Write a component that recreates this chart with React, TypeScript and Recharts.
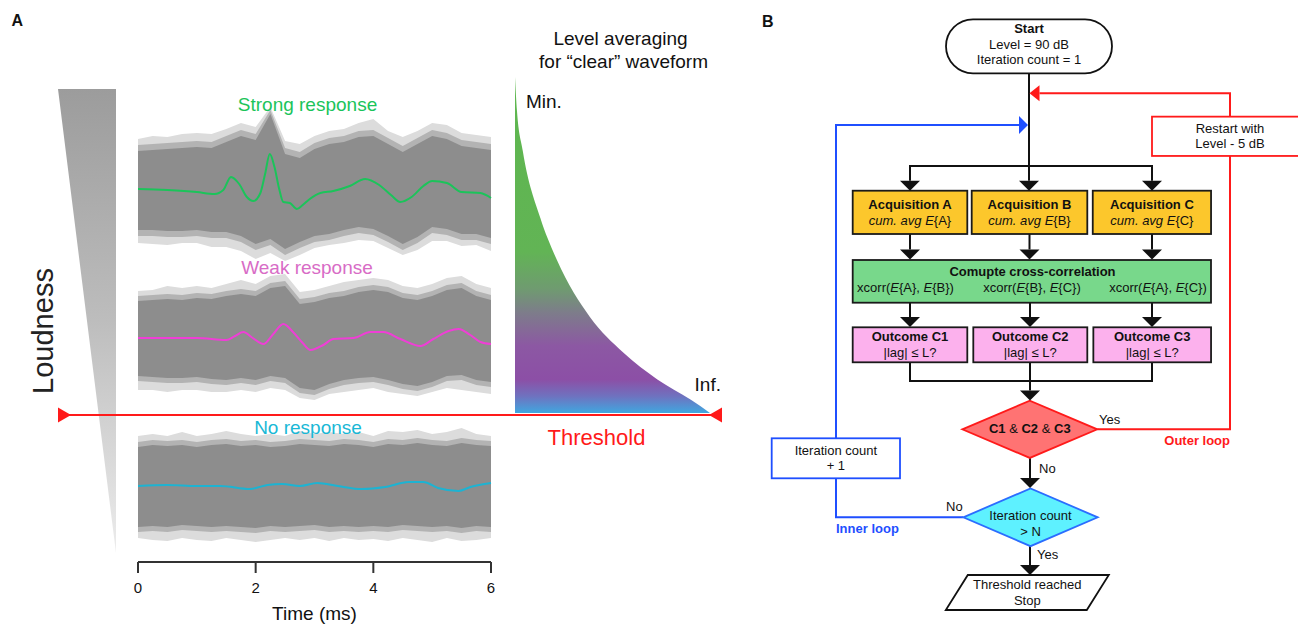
import React from "react";
import {
  ComposedChart,
  AreaChart,
  Area,
  Line,
  Scatter,
  XAxis,
  YAxis,
} from "recharts";

const FONT = '"Liberation Sans", Arial, Helvetica, sans-serif';
const RED = "#ff1a1a";
const BLUE = "#1f4fff";
const GREEN = "#1bc45a";
const MAGENTA = "#ef3ed6";
const CYAN = "#1db3d2";

// ---------- panel A: single-trial traces and their averages ----------
const timeTicks = [0, 2, 4, 6];
const bandTimes = [0, 0.25, 0.5, 0.75, 1, 1.25, 1.5, 1.75, 2, 2.25, 2.5, 2.75, 3, 3.25, 3.5, 3.75, 4, 4.25, 4.5, 4.75, 5, 5.25, 5.5, 5.75, 6];

// envelopes of the gray trial traces (amplitude around each baseline)
const strongCoreHi = [38, 39, 40, 41, 42, 41, 47, 53, 49, 75, 35, 31, 40, 45, 47, 52, 53, 45, 37, 45, 53, 50, 43, 41, 39];
const strongCoreLo = [-41, -41, -42, -42, -41, -43, -43, -47, -55, -50, -60, -53, -47, -45, -41, -38, -40, -47, -55, -48, -38, -40, -45, -45, -49];
const strongMidHi = [44, 45, 46, 47, 48, 47, 53, 59, 55, 79, 41, 37, 46, 51, 53, 58, 59, 51, 43, 51, 59, 56, 49, 47, 45];
const strongMidLo = [-47, -47, -48, -48, -47, -49, -49, -53, -61, -56, -66, -59, -53, -51, -47, -44, -46, -53, -61, -54, -44, -46, -51, -51, -55];
const strongOuterHi = [50, 53, 52, 55, 56, 55, 60, 66, 62, 82, 48, 45, 53, 58, 60, 66, 70, 58, 52, 58, 66, 64, 56, 54, 52];
const strongOuterLo = [-54, -55, -56, -54, -54, -58, -58, -62, -70, -64, -72, -66, -59, -56, -54, -51, -52, -59, -66, -61, -52, -52, -57, -56, -62];

const weakCoreHi = [37, 38, 39, 38, 40, 39, 42, 44, 42, 50, 52, 34, 36, 40, 42, 46, 48, 46, 40, 38, 42, 48, 50, 42, 38];
const weakCoreLo = [-38, -39, -40, -40, -39, -41, -42, -40, -42, -38, -40, -50, -52, -46, -42, -40, -39, -42, -46, -48, -44, -38, -37, -42, -44];
const weakMidHi = [42, 43, 44, 43, 45, 44, 47, 49, 47, 55, 57, 39, 41, 45, 47, 51, 53, 51, 45, 43, 47, 53, 55, 47, 43];
const weakMidLo = [-43, -44, -45, -45, -44, -46, -47, -45, -47, -43, -45, -55, -57, -51, -47, -45, -44, -47, -51, -53, -49, -43, -42, -47, -49];
const weakOuterHi = [47, 48, 52, 50, 52, 50, 54, 58, 54, 62, 64, 46, 48, 52, 56, 58, 60, 58, 52, 50, 54, 60, 62, 54, 50];
const weakOuterLo = [-52, -52, -54, -52, -52, -54, -54, -52, -54, -50, -52, -60, -62, -56, -54, -52, -50, -54, -56, -58, -54, -50, -52, -54, -56];

const noneCoreHi = [39, 41, 40, 41, 39, 41, 42, 40, 41, 39, 40, 42, 41, 40, 42, 41, 39, 42, 41, 43, 41, 40, 43, 41, 40];
const noneCoreLo = [-41, -40, -41, -39, -40, -41, -40, -41, -42, -40, -41, -40, -39, -41, -40, -41, -40, -41, -39, -40, -41, -40, -42, -40, -41];
const noneMidHi = [44, 46, 45, 46, 44, 46, 47, 45, 46, 44, 45, 47, 46, 45, 47, 46, 44, 47, 46, 48, 46, 45, 48, 46, 45];
const noneMidLo = [-46, -45, -46, -44, -45, -46, -45, -46, -47, -45, -46, -45, -44, -46, -45, -46, -45, -46, -44, -45, -46, -45, -47, -45, -46];
const noneOuterHi = [50, 52, 50, 54, 50, 52, 55, 52, 50, 52, 50, 55, 52, 54, 52, 54, 50, 55, 54, 56, 52, 54, 58, 52, 50];
const noneOuterLo = [-52, -54, -55, -52, -54, -55, -52, -54, -56, -54, -52, -54, -52, -55, -52, -54, -53, -55, -52, -54, -56, -52, -55, -54, -52];

// averaged waveforms
const strongMeanT = [0, 0.5, 1, 1.3, 1.45, 1.58, 1.72, 1.85, 1.96, 2.08, 2.16, 2.24, 2.32, 2.4, 2.47, 2.58, 2.7, 2.8, 2.92, 3.1, 3.32, 3.6, 3.86, 4.1, 4.3, 4.46, 4.65, 4.85, 5.0, 5.25, 5.5, 5.82, 6];
const strongMean = [0, -1, -3, -5, -1, 12, 5, -8, -12, -4, 15, 35, 22, 0, -13, -14, -20, -16, -10, -4, -2, 3, 10, 4, -6, -13, -8, 3, 8, 6, -3, -4, -9];

const weakMeanT = [0, 0.5, 1, 1.5, 1.65, 1.79, 1.95, 2.13, 2.3, 2.47, 2.65, 2.8, 2.93, 3.15, 3.32, 3.66, 3.95, 4.17, 4.46, 4.8, 5.02, 5.28, 5.45, 5.65, 5.82, 6];
const weakMean = [0, 0, 0, -2, 2, 6, 0, -6, 4, 14, 5, -5, -12, -7, -1, 0, 6, 6, -1, -8, -1, 7, 9, 3, -4, -6];

const noneMeanT = [0, 0.5, 1, 1.4, 1.9, 2.2, 2.45, 2.75, 3.05, 3.4, 3.8, 4.2, 4.6, 4.85, 5.1, 5.45, 5.65, 6];
const noneMean = [0, 1, 0, 0, -3, 1, 2, 0, 3, 0, -3, -1, 4, 4, -2, -5, -1, 3];

// level averaging needed vs loudness (relative units)
const levelAvg = [0, 1, 4, 13, 21.5, 38.5, 55.5, 73, 90, 100];
const levelLoud = [100, 90, 78, 58, 45.5, 28.5, 18, 10, 4, 0];

// baselines of the three stacked trace groups on the shared y scale
const OFF_STRONG = 373;
const OFF_WEAK = 224;
const OFF_NONE = 76;

const rng = (lo: number[], hi: number[], off: number, i: number) => [off + lo[i], off + hi[i]];

const bandRows = bandTimes.map((t, i) => ({
  t,
  strongOuter: rng(strongOuterLo, strongOuterHi, OFF_STRONG, i),
  strongMid: rng(strongMidLo, strongMidHi, OFF_STRONG, i),
  strongCore: rng(strongCoreLo, strongCoreHi, OFF_STRONG, i),
  weakOuter: rng(weakOuterLo, weakOuterHi, OFF_WEAK, i),
  weakMid: rng(weakMidLo, weakMidHi, OFF_WEAK, i),
  weakCore: rng(weakCoreLo, weakCoreHi, OFF_WEAK, i),
  noneOuter: rng(noneOuterLo, noneOuterHi, OFF_NONE, i),
  noneMid: rng(noneMidLo, noneMidHi, OFF_NONE, i),
  noneCore: rng(noneCoreLo, noneCoreHi, OFF_NONE, i),
}));

const meanRows = (ts: number[], vs: number[], off: number) =>
  ts.map((t, i) => ({ t, v: vs[i] + off }));

const strongRows = meanRows(strongMeanT, strongMean, OFF_STRONG);
const weakRows = meanRows(weakMeanT, weakMean, OFF_WEAK);
const noneRows = meanRows(noneMeanT, noneMean, OFF_NONE);

const levelRows = levelAvg.map((avg, i) => ({ avg, level: levelLoud[i] }));

// ---------- diagram layer (page coordinates) ----------
const wedgeRows = [
  { x: 58, r: [89, 89] },
  { x: 116, r: [89, 553] },
];
const thresholdRows = [
  { x: 58, y: 415 },
  { x: 722, y: 415 },
];

type Seg = { t: string; b?: boolean; i?: boolean };
const T = (t: string, b = false, i = false): Seg => ({ t, b, i });
const xcorr = (a: string, b: string) => [T("xcorr("), T("E", false, true), T(`{${a}}, `), T("E", false, true), T(`{${b}})`)];
const acqLines = (k: string) => [
  { dy: -3.35, segs: [T(`Acquisition ${k}`, true)] },
  { dy: 12.65, segs: [T("cum. avg ", false, true), T("E", false, true), T(`{${k}}`)] },
];
const outLines = (k: string) => [
  { dy: -3.8, segs: [T(`Outcome ${k}`, true)] },
  { dy: 11.9, segs: [T("|lag| ≤ L?")] },
];

const nodes = [
  { kind: "stadium", x: 1029, y: 46.3, w: 166, h: 54, fill: "#fff", stroke: "#111",
    lines: [{ dy: -13, segs: [T("Start", true)] }, { dy: 3, segs: [T("Level = 90 dB")] }, { dy: 18, segs: [T("Iteration count = 1")] }] },
  { kind: "rect", x: 1230, y: 136.3, w: 156, h: 39.3, fill: "#fff", stroke: RED,
    lines: [{ dy: -3.3, segs: [T("Restart with")] }, { dy: 11.7, segs: [T("Level - 5 dB")] }] },
  { kind: "rect", x: 910, y: 212.35, w: 114.6, h: 43.3, fill: "#fcc72c", stroke: "#1a1a1a", lines: acqLines("A") },
  { kind: "rect", x: 1029.5, y: 212.35, w: 115.6, h: 43.3, fill: "#fcc72c", stroke: "#1a1a1a", lines: acqLines("B") },
  { kind: "rect", x: 1151.9, y: 212.35, w: 118.3, h: 43.3, fill: "#fcc72c", stroke: "#1a1a1a", lines: acqLines("C") },
  { kind: "rect", x: 1031.85, y: 281.35, w: 358.3, h: 42.7, fill: "#78d88b", stroke: "#1a1a1a",
    lines: [
      { dy: -5.65, dx: 0.65, segs: [T("Comupte cross-correlation", true)] },
      { dy: 10.35, dx: -126.35, segs: xcorr("A", "B") },
      { dy: 10.35, dx: 0.15, segs: xcorr("B", "C") },
      { dy: 10.35, dx: 126.15, segs: xcorr("A", "C") },
    ] },
  { kind: "rect", x: 910, y: 344.8, w: 114.6, h: 35, fill: "#fcb1ed", stroke: "#1a1a1a", lines: outLines("C1") },
  { kind: "rect", x: 1030.3, y: 344.8, w: 114, h: 35, fill: "#fcb1ed", stroke: "#1a1a1a", lines: outLines("C2") },
  { kind: "rect", x: 1152.2, y: 344.8, w: 117.7, h: 35, fill: "#fcb1ed", stroke: "#1a1a1a", lines: outLines("C3") },
  { kind: "diamond", x: 1029.8, y: 429.3, w: 135, h: 57.3, fill: "#ff7373", stroke: RED,
    lines: [{ dy: 3.4, segs: [T("C1", true), T(" & "), T("C2", true), T(" & "), T("C3", true)] }] },
  { kind: "diamond", x: 1030.5, y: 517.3, w: 134.4, h: 57.7, fill: "#5ef1ff", stroke: "#2b6dff",
    lines: [{ dy: 2.7, segs: [T("Iteration count")] }, { dy: 18.4, segs: [T("> N")] }] },
  { kind: "rect", x: 835.85, y: 458.3, w: 128.3, h: 40, fill: "#fff", stroke: BLUE,
    lines: [{ dy: -3.3, segs: [T("Iteration count")] }, { dy: 11.7, segs: [T("+ 1")] }] },
  { kind: "para", x: 1027.3, y: 592.5, w: 141, h: 35, skew: 22, fill: "#fff", stroke: "#111",
    lines: [{ dy: -3.2, segs: [T("Threshold reached")] }, { dy: 12.5, segs: [T("Stop")] }] },
];

const edges = [
  { c: "#111", pts: [[1029, 73.3], [1029, 180.7]] },
  { c: "#111", pts: [[910, 180.7], [910, 166], [1152, 166], [1152, 180.7]] },
  { c: "#111", pts: [[910, 234], [910, 249.5]] },
  { c: "#111", pts: [[1029.5, 234], [1029.5, 249.5]] },
  { c: "#111", pts: [[1152, 234], [1152, 249.5]] },
  { c: "#111", pts: [[910, 302.7], [910, 317]] },
  { c: "#111", pts: [[1030, 302.7], [1030, 317]] },
  { c: "#111", pts: [[1152, 302.7], [1152, 317]] },
  { c: "#111", pts: [[910, 362.3], [910, 381], [1152, 381], [1152, 362.3]] },
  { c: "#111", pts: [[1030, 362.3], [1030, 390.5]] },
  { c: "#111", pts: [[1030, 458], [1030, 478]] },
  { c: "#111", pts: [[1030, 546], [1030, 565]] },
  { c: BLUE, pts: [[963.3, 517.3], [836, 517.3], [836, 478.3]] },
  { c: BLUE, pts: [[836, 438.3], [836, 125], [1019, 125]] },
  { c: RED, pts: [[1097.3, 429.3], [1230, 429.3], [1230, 156]] },
  { c: RED, pts: [[1230, 116.7], [1230, 93.3], [1039.5, 93.3]] },
].map((e) => ({ c: e.c, rows: e.pts.map(([x, y]) => ({ x, y })) }));

const arrowHeads = [
  { x: 71, y: 415, dir: "right", len: 13, half: 7.5, c: RED },
  { x: 709, y: 415, dir: "left", len: 13, half: 7.5, c: RED },
  { x: 1029, y: 190.7, dir: "down", len: 10, half: 10, c: "#111" },
  { x: 910, y: 190.7, dir: "down", len: 10, half: 10, c: "#111" },
  { x: 1152, y: 190.7, dir: "down", len: 10, half: 10, c: "#111" },
  { x: 910, y: 259.5, dir: "down", len: 10, half: 10, c: "#111" },
  { x: 1029.5, y: 259.5, dir: "down", len: 10, half: 10, c: "#111" },
  { x: 1152, y: 259.5, dir: "down", len: 10, half: 10, c: "#111" },
  { x: 910, y: 327, dir: "down", len: 10, half: 10, c: "#111" },
  { x: 1030, y: 327, dir: "down", len: 10, half: 10, c: "#111" },
  { x: 1152, y: 327, dir: "down", len: 10, half: 10, c: "#111" },
  { x: 1030, y: 400.5, dir: "down", len: 10, half: 10, c: "#111" },
  { x: 1030, y: 488, dir: "down", len: 10, half: 10, c: "#111" },
  { x: 1030, y: 575, dir: "down", len: 10, half: 10, c: "#111" },
  { x: 1028, y: 125, dir: "right", len: 9, half: 9, c: BLUE },
  { x: 1029.5, y: 93.3, dir: "left", len: 10, half: 8, c: RED },
];

const labels = [
  { x: 11.5, y: 26, text: "A", size: 16, weight: 900, fill: "#111", anchor: "start" },
  { x: 762, y: 26.5, text: "B", size: 16, weight: 900, fill: "#111", anchor: "start" },
  { x: 53, y: 331, text: "Loudness", size: 29, weight: 400, fill: "#222", anchor: "middle", rotate: -90 },
  { x: 307.5, y: 111, text: "Strong response", size: 19, weight: 400, fill: GREEN, anchor: "middle" },
  { x: 307, y: 274, text: "Weak response", size: 19, weight: 400, fill: "#d86cc6", anchor: "middle" },
  { x: 308, y: 434, text: "No response", size: 19, weight: 400, fill: "#19b8d6", anchor: "middle" },
  { x: 620.5, y: 45, text: "Level averaging", size: 19, weight: 400, fill: "#111", anchor: "middle" },
  { x: 623.5, y: 68, text: "for \u201cclear\u201d waveform", size: 19, weight: 400, fill: "#111", anchor: "middle" },
  { x: 526, y: 108, text: "Min.", size: 19, weight: 400, fill: "#111", anchor: "start" },
  { x: 721, y: 391, text: "Inf.", size: 19, weight: 400, fill: "#111", anchor: "end" },
  { x: 596.5, y: 445, text: "Threshold", size: 22, weight: 400, fill: RED, anchor: "middle" },
  { x: 1099, y: 424, text: "Yes", size: 13, weight: 400, fill: "#111", anchor: "start" },
  { x: 1230, y: 445, text: "Outer loop", size: 13, weight: 700, fill: RED, anchor: "end" },
  { x: 1039, y: 472.7, text: "No", size: 13, weight: 400, fill: "#111", anchor: "start" },
  { x: 1037, y: 559.3, text: "Yes", size: 13, weight: 400, fill: "#111", anchor: "start" },
  { x: 946, y: 510.7, text: "No", size: 13, weight: 400, fill: "#111", anchor: "start" },
  { x: 836, y: 533.3, text: "Inner loop", size: 13, weight: 700, fill: BLUE, anchor: "start" },
];

const NodeShape = (props: any) => {
  const { cx, cy, payload: n } = props;
  const hw = n.w / 2;
  const hh = n.h / 2;
  const common = { fill: n.fill, stroke: n.stroke, strokeWidth: 1.8 };
  let outline;
  if (n.kind === "stadium") {
    outline = <rect x={cx - hw} y={cy - hh} width={n.w} height={n.h} rx={hh} ry={hh} {...common} />;
  } else if (n.kind === "diamond") {
    outline = <polygon points={`${cx - hw},${cy} ${cx},${cy - hh} ${cx + hw},${cy} ${cx},${cy + hh}`} {...common} />;
  } else if (n.kind === "para") {
    const s = n.skew / 2;
    outline = (
      <polygon
        points={`${cx - hw + s},${cy - hh} ${cx + hw + s},${cy - hh} ${cx + hw - s},${cy + hh} ${cx - hw - s},${cy + hh}`}
        {...common}
      />
    );
  } else {
    outline = <rect x={cx - hw} y={cy - hh} width={n.w} height={n.h} {...common} />;
  }
  return (
    <g>
      {outline}
      {n.lines.map((ln: any, k: number) => (
        <text
          key={k}
          x={cx + (ln.dx || 0)}
          y={cy + ln.dy}
          textAnchor="middle"
          fontSize={13}
          fontFamily={FONT}
          fill="#111"
        >
          {ln.segs.map((s: Seg, j: number) => (
            <tspan key={j} fontWeight={s.b ? 700 : 400} fontStyle={s.i ? "italic" : "normal"}>
              {s.t}
            </tspan>
          ))}
        </text>
      ))}
    </g>
  );
};

const ArrowShape = (props: any) => {
  const { cx, cy, payload: a } = props;
  let pts = "";
  if (a.dir === "down") pts = `${cx},${cy} ${cx - a.half},${cy - a.len} ${cx + a.half},${cy - a.len}`;
  if (a.dir === "left") pts = `${cx},${cy} ${cx + a.len},${cy - a.half} ${cx + a.len},${cy + a.half}`;
  if (a.dir === "right") pts = `${cx},${cy} ${cx - a.len},${cy - a.half} ${cx - a.len},${cy + a.half}`;
  return <polygon points={pts} fill={a.c} stroke="none" />;
};

const LabelShape = (props: any) => {
  const { cx, cy, payload: l } = props;
  return (
    <text
      x={cx}
      y={cy}
      textAnchor={l.anchor}
      fontSize={l.size}
      fontWeight={l.weight}
      fill={l.fill}
      fontFamily={FONT}
      transform={l.rotate ? `rotate(${l.rotate} ${cx} ${cy})` : undefined}
    >
      {l.text}
    </text>
  );
};

const band = (key: string, fill: string) => (
  <Area key={key} dataKey={key} type="linear" stroke="none" fill={fill} fillOpacity={1} isAnimationActive={false} />
);

const TracesChart = () => (
  <ComposedChart
    width={760}
    height={625}
    data={bandRows}
    margin={{ top: 100, right: 269, bottom: 0, left: 138 }}
  >
    <XAxis
      dataKey="t"
      type="number"
      domain={[0, 6]}
      ticks={timeTicks}
      interval={0}
      height={63}
      tickSize={11}
      tickMargin={9}
      axisLine={{ stroke: "#333", strokeWidth: 2 }}
      tickLine={{ stroke: "#333", strokeWidth: 2 }}
      tick={{ fontSize: 15, fill: "#111", fontFamily: FONT }}
      label={{ value: "Time (ms)", position: "insideBottom", offset: 5, fontSize: 19, fill: "#111", fontFamily: FONT }}
    />
    <YAxis type="number" domain={[0, 462]} hide />
    {band("strongOuter", "#dcdcdc")}
    {band("weakOuter", "#dcdcdc")}
    {band("noneOuter", "#dcdcdc")}
    {band("strongMid", "#b3b3b3")}
    {band("weakMid", "#b3b3b3")}
    {band("noneMid", "#b3b3b3")}
    {band("strongCore", "#8d8d8d")}
    {band("weakCore", "#8d8d8d")}
    {band("noneCore", "#8d8d8d")}
    <Line data={strongRows} dataKey="v" type="monotone" stroke={GREEN} strokeWidth={2} dot={false} activeDot={false} isAnimationActive={false} />
    <Line data={weakRows} dataKey="v" type="monotone" stroke={MAGENTA} strokeWidth={2} dot={false} activeDot={false} isAnimationActive={false} />
    <Line data={noneRows} dataKey="v" type="monotone" stroke={CYAN} strokeWidth={2} dot={false} activeDot={false} isAnimationActive={false} />
  </ComposedChart>
);

const LevelChart = () => (
  <AreaChart width={195} height={336} data={levelRows} margin={{ top: 0, right: 0, bottom: 0, left: 0 }}>
    <defs>
      <linearGradient id="lvlGrad" x1="0" y1="0" x2="0" y2="1">
        <stop offset="0" stopColor="#5db74e" />
        <stop offset="0.52" stopColor="#62b455" />
        <stop offset="0.63" stopColor="#6f9b70" />
        <stop offset="0.7" stopColor="#7d7d8a" />
        <stop offset="0.8" stopColor="#8c58a3" />
        <stop offset="0.9" stopColor="#8c4fa6" />
        <stop offset="0.95" stopColor="#6f72bf" />
        <stop offset="1" stopColor="#40a7e0" />
      </linearGradient>
    </defs>
    <XAxis dataKey="avg" type="number" domain={[0, 100]} hide />
    <YAxis type="number" domain={[0, 100]} hide />
    <Area dataKey="level" type="monotone" stroke="none" fill="url(#lvlGrad)" fillOpacity={1} isAnimationActive={false} />
  </AreaChart>
);

const DiagramLayer = () => (
  <ComposedChart width={1298} height={625} margin={{ top: 0, right: 0, bottom: 0, left: 0 }}>
    <defs>
      <linearGradient id="wedgeGrad" x1="0" y1="0" x2="0" y2="1">
        <stop offset="0" stopColor="#9c9c9c" />
        <stop offset="0.5" stopColor="#bdbdbd" />
        <stop offset="1" stopColor="#ececec" />
      </linearGradient>
    </defs>
    <XAxis dataKey="x" type="number" domain={[0, 1298]} hide />
    <YAxis type="number" domain={[0, 625]} reversed hide />
    <Area data={wedgeRows} dataKey="r" type="linear" stroke="none" fill="url(#wedgeGrad)" fillOpacity={1} isAnimationActive={false} />
    <Line data={thresholdRows} dataKey="y" type="linear" stroke={RED} strokeWidth={2} dot={false} activeDot={false} isAnimationActive={false} />
    {edges.map((e, k) => (
      <Line
        key={k}
        data={e.rows}
        dataKey="y"
        type="linear"
        stroke={e.c}
        strokeWidth={2}
        dot={false}
        activeDot={false}
        isAnimationActive={false}
      />
    ))}
    <Scatter data={nodes} dataKey="y" shape={NodeShape} isAnimationActive={false} />
    <Scatter data={arrowHeads} dataKey="y" shape={ArrowShape} isAnimationActive={false} />
    <Scatter data={labels} dataKey="y" shape={LabelShape} isAnimationActive={false} />
  </ComposedChart>
);

export default function App() {
  return (
    <div style={{ position: "absolute", left: 0, top: 0, width: 1298, height: 625, background: "#fff", fontFamily: FONT, overflow: "hidden" }}>
      <div style={{ position: "absolute", left: 0, top: 0 }}>
        <TracesChart />
      </div>
      <div style={{ position: "absolute", left: 515, top: 77 }}>
        <LevelChart />
      </div>
      <div style={{ position: "absolute", left: 0, top: 0 }}>
        <DiagramLayer />
      </div>
    </div>
  );
}
